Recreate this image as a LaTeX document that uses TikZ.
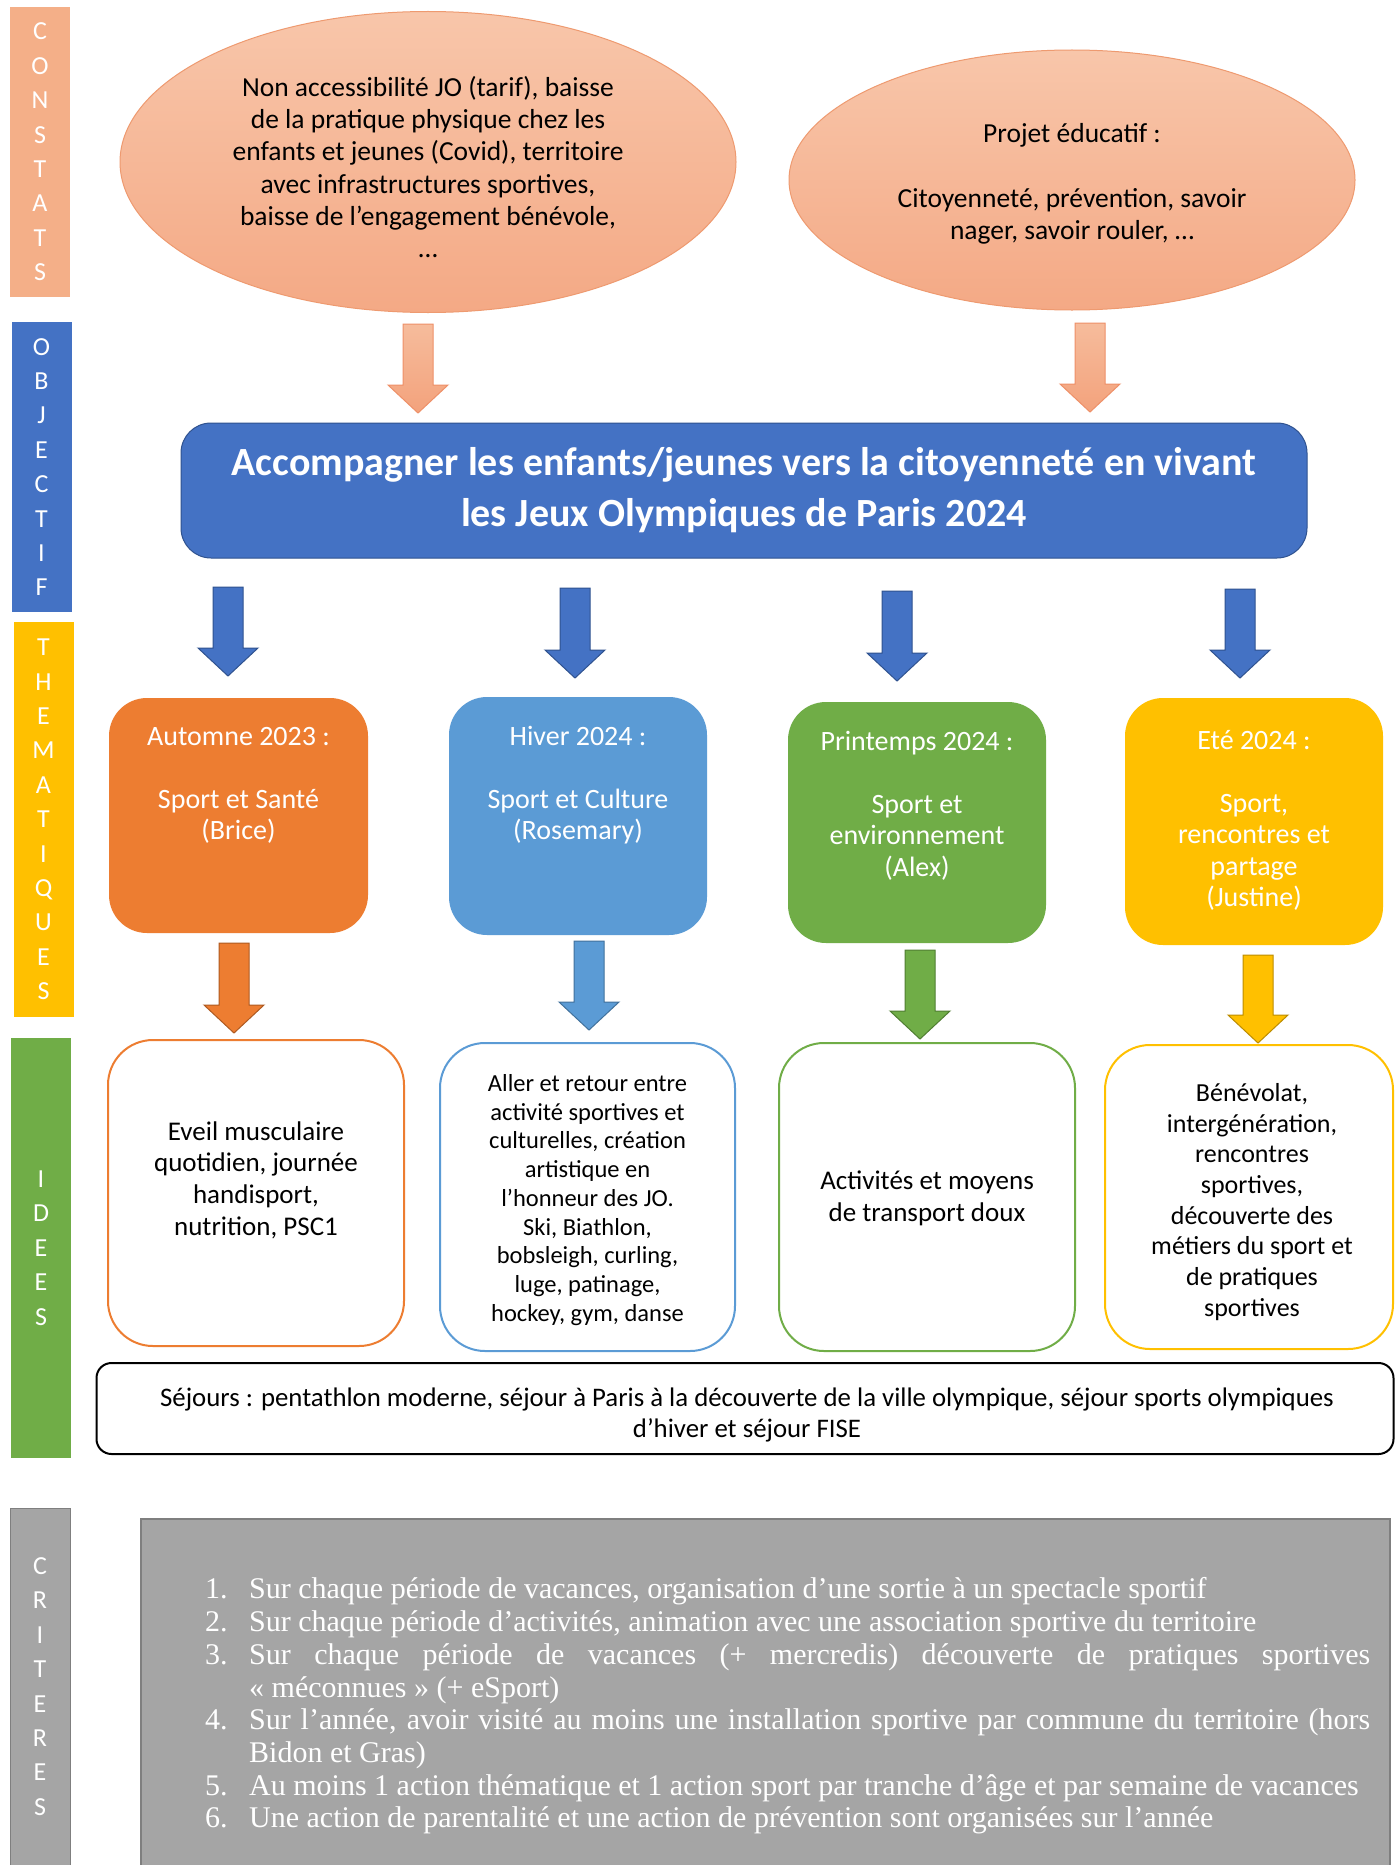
\documentclass[tikz,border=0pt]{standalone}
\usepackage{fontspec}
\setmainfont{Carlito}
\newfontfamily\timesf{Liberation Serif}
\usetikzlibrary{shapes.geometric,calc}
\definecolor{salmonbar}{HTML}{F4AF88}
\definecolor{ellTop}{HTML}{F8C6AA}
\definecolor{ellBot}{HTML}{F4A985}
\definecolor{ellLine}{HTML}{EE9A70}
\definecolor{arrTop}{HTML}{F6BC9C}
\definecolor{arrBot}{HTML}{F3A27C}
\definecolor{arrLine}{HTML}{EE9068}
\definecolor{objBlue}{HTML}{4472C4}
\definecolor{objDark}{HTML}{2F528F}
\definecolor{orTheme}{HTML}{ED7D31}
\definecolor{orDark}{HTML}{AE5A21}
\definecolor{blTheme}{HTML}{5B9BD5}
\definecolor{blDark}{HTML}{41719C}
\definecolor{grTheme}{HTML}{70AD47}
\definecolor{grDark}{HTML}{507E32}
\definecolor{yeTheme}{HTML}{FFC000}
\definecolor{yeDark}{HTML}{BC8C00}
\definecolor{critGrey}{HTML}{A5A5A5}
\definecolor{critLine}{HTML}{7F7F7F}
\newcommand\critem[2]{\par\hangindent=44pt\hangafter=1\noindent\makebox[44pt][l]{#1}#2\par}
\newcommand\firststrut{\rule{0pt}{24pt}}
\begin{document}
\begin{tikzpicture}[x=1pt,y=-1pt,
  sidebar/.style={rectangle, inner sep=0pt, text=white, minimum width=60pt,
    font=\fontsize{26}{34.4}\selectfont, align=center},
  ell/.style={ellipse, inner sep=0pt, draw=ellLine, line width=1pt,
    top color=ellTop, bottom color=ellBot},
  elltext/.style={inner sep=0pt, align=center, font=\fontsize{27.5}{32.3}\selectfont},
  barrow/.style={line width=1pt, line join=miter,
    to path={let \p1=(\tikztostart), \p2=(\tikztotarget) in
      (\x1-15pt,\y1) -- (\x1+15pt,\y1) -- (\x1+15pt,\y2+28pt) -- (\x1+30pt,\y2+28pt)
      -- (\x2,\y2) -- (\x1-30pt,\y2+28pt) -- (\x1-15pt,\y2+28pt) -- cycle}},
  objbox/.style={rectangle, rounded corners=30pt, fill=objBlue, draw=objDark,
    line width=1pt, text=white, inner sep=0pt, align=center,
    font=\bfseries\fontsize{40}{51}\selectfont},
  theme/.style={rectangle, rounded corners=38pt, inner sep=0pt},
  themetext/.style={text=white, inner sep=0pt, anchor=north, align=center,
    font=\fontsize{28}{31.5}\selectfont},
  idea/.style={rectangle, rounded corners=45pt, fill=white, line width=2pt, inner sep=0pt},
  ideatext/.style={inner sep=0pt, align=center},
  sejbox/.style={rectangle, rounded corners=15pt, draw=black, line width=2pt,
    fill=white, inner sep=0pt},
  sejtext/.style={inner sep=0pt, align=center, font=\fontsize{26.8}{31}\selectfont},
  critbox/.style={rectangle, fill=critGrey, draw=critLine, line width=1.5pt, inner sep=0pt},
  crittext/.style={inner sep=0pt, text=white, text width=1165pt, align=justify,
    font=\timesf\fontsize{30}{32.7}\selectfont}
]
\useasboundingbox (0,0) rectangle (1395,1865);
\fill[white] (0,0) rectangle (1395,1865);

% side bars
\node[sidebar, fill=salmonbar, minimum height=290pt] (bConst) at (40,152) {C\\O\\N\\S\\T\\A\\T\\S};
\node[sidebar, fill=objBlue, minimum height=290pt] (bObj) at (41.5,467) {O\\B\\J\\E\\C\\T\\I\\F};
\node[sidebar, fill=yeTheme, minimum height=395pt] (bThem) at (43.5,819.5) {T\\H\\E\\M\\A\\T\\I\\Q\\U\\E\\S};
\node[sidebar, fill=grTheme, minimum height=420pt] (bIdee) at (41,1248) {I\\D\\E\\E\\S};
\node[sidebar, fill=critGrey, draw=critLine, line width=1pt, minimum height=357pt] (bCrit) at (40,1686.5) {C\\R\\I\\T\\E\\R\\E\\S};

% constats
\node[ell, minimum width=616pt, minimum height=301pt] (e1) at (428,162) {};
\node[elltext] (et1) at (428,167)
  {Non accessibilité JO (tarif), baisse\\de la pratique physique chez les\\enfants et jeunes (Covid), territoire\\avec infrastructures sportives,\\baisse de l’engagement bénévole,\\…};
\node[ell, minimum width=566pt, minimum height=260pt] (e2) at (1072,180) {};
\node[elltext] (et2) at (1072,184)
  {Projet éducatif :\\[32pt]Citoyenneté, prévention, savoir\\nager, savoir rouler, …};

% objectif
\node[objbox, minimum width=1126pt, minimum height=135pt] (obj) at (744,490.5)
  {Accompagner les enfants/jeunes vers la citoyenneté en vivant\\les Jeux Olympiques de Paris 2024};

\coordinate (a1s) at (418,324); \coordinate (a1e) at (418,413);
\coordinate (a2s) at (1090,323); \coordinate (a2e) at (1090,412);
\draw[barrow, draw=arrLine, top color=arrTop, bottom color=arrBot] (a1s) to (a1e);
\draw[barrow, draw=arrLine, top color=arrTop, bottom color=arrBot] (a2s) to (a2e);

% themes
\node[theme, fill=orTheme, minimum width=259pt, minimum height=235pt] (t1) at (238.5,815.5) {};
\node[theme, fill=blTheme, minimum width=258pt, minimum height=238pt] (t2) at (578,816) {};
\node[theme, fill=grTheme, minimum width=258pt, minimum height=241pt] (t3) at (917,822.5) {};
\node[theme, fill=yeTheme, minimum width=258pt, minimum height=247pt] (t4) at (1254,821.5) {};
\node[themetext] (tt1) at (238.5,721) {\firststrut Automne 2023 :\\[31.5pt]Sport et Santé\\(Brice)};
\node[themetext] (tt2) at (578,721) {\firststrut Hiver 2024 :\\[31.5pt]Sport et Culture\\(Rosemary)};
\node[themetext] (tt3) at (917,726) {\firststrut Printemps 2024 :\\[31.5pt]Sport et\\environnement\\(Alex)};
\node[themetext] (tt4) at (1254,725) {\firststrut Eté 2024 :\\[31.5pt]Sport,\\rencontres et\\partage\\(Justine)};

\coordinate (b1s) at (228,587); \coordinate (b1e) at (228,676);
\coordinate (b2s) at (575,588); \coordinate (b2e) at (575,678);
\coordinate (b3s) at (897,591); \coordinate (b3e) at (897,681);
\coordinate (b4s) at (1240,589); \coordinate (b4e) at (1240,678);
\foreach \i in {1,2,3,4}{\draw[barrow, fill=objBlue, draw=objDark] (b\i s) to (b\i e);}

% ideas
\coordinate (c1s) at (234,943); \coordinate (c1e) at (234,1033);
\coordinate (c2s) at (589,941); \coordinate (c2e) at (589,1030);
\coordinate (c3s) at (920,950); \coordinate (c3e) at (920,1039);
\coordinate (c4s) at (1258,955); \coordinate (c4e) at (1258,1043);
\draw[barrow, fill=orTheme, draw=orDark] (c1s) to (c1e);
\draw[barrow, fill=blTheme, draw=blDark] (c2s) to (c2e);
\draw[barrow, fill=grTheme, draw=grDark] (c3s) to (c3e);
\draw[barrow, fill=yeTheme, draw=yeDark] (c4s) to (c4e);

\node[idea, draw=orTheme, minimum width=296pt, minimum height=306pt] (i1) at (256,1193) {};
\node[idea, draw=blTheme, minimum width=295pt, minimum height=308pt] (i2) at (587.5,1197) {};
\node[idea, draw=grTheme, minimum width=296pt, minimum height=308pt] (i3) at (927,1197) {};
\node[idea, draw=yeTheme, minimum width=288pt, minimum height=304pt] (i4) at (1249,1197) {};
\node[ideatext, font=\fontsize{27}{31.7}\selectfont] (it1) at (256,1180)
  {Eveil musculaire\\quotidien, journée\\handisport,\\nutrition, PSC1};
\node[ideatext, font=\fontsize{24.5}{28.75}\selectfont] (it2) at (587.5,1200)
  {Aller et retour entre\\activité sportives et\\culturelles, création\\artistique en\\l’honneur des JO.\\Ski, Biathlon,\\bobsleigh, curling,\\luge, patinage,\\hockey, gym, danse};
\node[ideatext, font=\fontsize{27}{32}\selectfont] (it3) at (927,1198)
  {Activités et moyens\\de transport doux};
\node[ideatext, font=\fontsize{26}{30.7}\selectfont] (it4) at (1252,1202)
  {Bénévolat,\\intergénération,\\rencontres\\sportives,\\découverte des\\métiers du sport et\\de pratiques\\sportives};

\node[sejbox, minimum width=1297pt, minimum height=91pt] (sej) at (745,1408.5) {};
\node[sejtext] (sejt) at (747,1415)
  {Séjours : pentathlon moderne, séjour à Paris à la découverte de la ville olympique, séjour sports olympiques\\d’hiver et séjour FISE};

% criteres
\node[critbox, anchor=north west, minimum width=1249pt, minimum height=347pt] (cbox) at (140,1518) {};
\node[crittext, anchor=north west] (ctext) at (205,1566) {%
\critem{1.}{\firststrut\mbox{Sur chaque période de vacances, organisation d’une sortie à un spectacle sportif}}
\critem{2.}{\mbox{Sur chaque période d’activités, animation avec une association sportive du territoire}}
\critem{3.}{Sur chaque période de vacances (+ mercredis) découverte de pratiques sportives\linebreak «~méconnues~» (+ eSport)}
\critem{4.}{Sur l’année, avoir visité au moins une installation sportive par commune du territoire (hors\linebreak Bidon et Gras)}
\critem{5.}{\mbox{Au moins 1 action thématique et 1 action sport par tranche d’âge et par semaine de vacances}}
\critem{6.}{\mbox{Une action de parentalité et une action de prévention sont organisées sur l’année}}};
\end{tikzpicture}
\end{document}
